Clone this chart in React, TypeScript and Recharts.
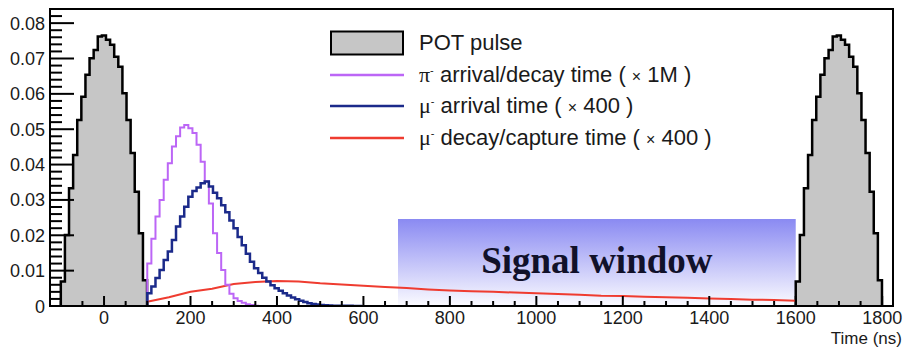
import React from 'react';
import { ComposedChart, Area, Line, XAxis, YAxis, ReferenceArea, Legend } from 'recharts';

// ---------------- data ----------------
// common histogram bin width (ns)
const histBinWidth = 9.5;

// POT proton pulse: two pulses centred at 0 ns and 1700 ns, bins start 100 ns before centre
const potPulseCentres = [0, 1700];
const potBinOffset = -100;
const potValues = [
  0.0069, 0.0201, 0.0333, 0.0427, 0.0526, 0.0592, 0.0654, 0.0701, 0.0724, 0.0762, 0.0765,
  0.0753, 0.0739, 0.0705, 0.0677, 0.0602, 0.0526, 0.0433, 0.0323, 0.0206, 0.0073,
];

// pi- arrival/decay time (x 1M)
const pionStart = 100;
const pionValues = [
  0.012, 0.019, 0.0253, 0.030, 0.0357, 0.0404, 0.0451, 0.048, 0.0505, 0.0512, 0.0503,
  0.0489, 0.0456, 0.0408, 0.0352, 0.029, 0.0206, 0.015, 0.0102, 0.006, 0.0035, 0.0022,
  0.0014, 0.0009, 0.0005, 0.0003, 0.0001,
];

// mu- arrival time (x 400)
const muArrStart = 100;
const muArrValues = [
  0.0036, 0.0055, 0.0079, 0.0102, 0.013, 0.0154, 0.0187, 0.0225, 0.0253, 0.0281, 0.0309,
  0.0325, 0.0335, 0.0347, 0.0352, 0.0338, 0.032, 0.0305, 0.0285, 0.0265, 0.0242, 0.022,
  0.0195, 0.0172, 0.0148, 0.0125, 0.0107, 0.0093, 0.008, 0.0069, 0.0059, 0.005, 0.0043,
  0.0036, 0.003, 0.0024, 0.0019, 0.0015, 0.0011, 0.0008, 0.0006, 0.0004, 0.0003, 0.0002,
  0.00015, 0.0001, 0.00008, 0.00006, 0.00005, 0.00004, 0.00003, 0.00002,
];

// mu- decay/capture time (x 400)
const muDecTimes = [
  100, 150, 200, 250, 300, 350, 400, 450, 500, 550, 600, 650, 700, 750, 800, 850, 900,
  950, 1000, 1050, 1100, 1150, 1200, 1250, 1300, 1350, 1400, 1450, 1500, 1550, 1600,
];
const muDecValues = [
  0.0012, 0.0025, 0.004, 0.0049, 0.0062, 0.0068, 0.0071, 0.0069, 0.0064, 0.0061, 0.0057,
  0.0054, 0.0051, 0.0047, 0.0044, 0.0042, 0.004, 0.0038, 0.0036, 0.0034, 0.0032, 0.0029,
  0.0028, 0.0026, 0.0025, 0.0023, 0.0021, 0.002, 0.0018, 0.0017, 0.0015,
];

// signal window
const signalWindow = { from: 680, to: 1600, height: 0.0246, label: 'Signal window' };

// axes
const xDomain = [-125, 1825];
const yDomain = [0, 0.084];
const xMajorTicks = [0, 200, 400, 600, 800, 1000, 1200, 1400, 1600, 1800];
const xMinorStep = 50;
const yMajorTicks = [0, 0.01, 0.02, 0.03, 0.04, 0.05, 0.06, 0.07, 0.08];
const yTickLabels = ['0', '0.01', '0.02', '0.03', '0.04', '0.05', '0.06', '0.07', '0.08'];
const yMinorStep = 0.002;
const xAxisTitle = 'Time (ns)';

// legend
const legendLabels = ['POT pulse', ' arrival/decay time ( ', ' arrival time ( ', ' decay/capture time ( '];
const legendParticles = ['', 'π', 'μ', 'μ'];
const legendFactors = ['', '1M', '400', '400'];

// colours
const C_POT_FILL = '#c6c6c6';
const C_PION = '#bc66f6';
const C_MUARR = '#1b2a8a';
const C_MUDEC = '#ef3c30';
const legendColors = ['#000', C_PION, C_MUARR, C_MUDEC];

// ---------------- table building ----------------
type Row = { x: number; [k: string]: number };
function histRows(key: string, start: number, values: number[]): Row[] {
  const rows: Row[] = [{ x: start, [key]: 0 }];
  values.forEach((v, i) => rows.push({ x: start + i * histBinWidth, [key]: v }));
  rows.push({ x: start + values.length * histBinWidth, [key]: 0 });
  return rows;
}

const rows: Row[] = [
  ...histRows('pot1', potPulseCentres[0] + potBinOffset, potValues),
  ...histRows('pot2', potPulseCentres[1] + potBinOffset, potValues),
  ...histRows('pion', pionStart, pionValues),
  ...histRows('muArr', muArrStart, muArrValues),
  ...muDecTimes.map((t, i) => ({ x: t, muDec: muDecValues[i] })),
];

const xTicks: number[] = [];
for (let t = -100; t <= 1800; t += xMinorStep) xTicks.push(t);
const yTicks: number[] = [];
for (let i = 0; i * yMinorStep <= yDomain[1] + 1e-9; i++) yTicks.push(+(i * yMinorStep).toFixed(4));

const AXIS_FONT = '"Liberation Sans", Arial, Helvetica, sans-serif';
const TEXT_FILL = '#1a1a1a';

const XTick = (props: any) => {
  const { x, y, payload } = props;
  const v = payload.value;
  const major = xMajorTicks.includes(v);
  return (
    <g>
      <line x1={x} x2={x} y1={y} y2={y - (major ? 10 : 5)} stroke="#000" strokeWidth={2} />
      {major && (
        <text x={x} y={y + 18} textAnchor="middle" fontFamily={AXIS_FONT} fontSize={18} fill={TEXT_FILL}>
          {v}
        </text>
      )}
    </g>
  );
};

const YTick = (props: any) => {
  const { x, y, payload } = props;
  const v = payload.value;
  const idx = yMajorTicks.findIndex((m) => Math.abs(m - v) < 1e-7);
  const major = idx >= 0;
  return (
    <g>
      <line x1={x} x2={x + (major ? 24 : 12)} y1={y} y2={y} stroke="#000" strokeWidth={2} />
      {major && (
        <text x={x - 5} y={y + 6.5} textAnchor="end" fontFamily={AXIS_FONT} fontSize={18} fill={TEXT_FILL}>
          {yTickLabels[idx]}
        </text>
      )}
    </g>
  );
};

const LegendBox = () => (
  <div style={{ fontFamily: AXIS_FONT, fontSize: 22, color: TEXT_FILL }}>
    {legendLabels.map((label, i) => (
      <div key={i} style={{ display: 'flex', alignItems: 'center', height: 31.7, whiteSpace: 'nowrap' }}>
        <svg width={74} height={26} style={{ marginRight: 15, flex: 'none' }}>
          {i === 0 ? (
            <rect x={1} y={1.5} width={72} height={23} fill={C_POT_FILL} stroke="#000" strokeWidth={2} />
          ) : (
            <line x1={0} x2={74} y1={13} y2={13} stroke={legendColors[i]} strokeWidth={2.5} />
          )}
        </svg>
        <span>
          {legendParticles[i] && (
            <>
              <span style={{ fontFamily: '"Liberation Serif", "Times New Roman", serif' }}>{legendParticles[i]}</span>
              <span style={{ fontSize: 11, verticalAlign: 'super' }}>-</span>
            </>
          )}
          {label}
          {legendFactors[i] && (
            <>
              <span style={{ fontSize: 16 }}>×</span> {legendFactors[i]} )
            </>
          )}
        </span>
      </div>
    ))}
  </div>
);

export default function App() {
  return (
    <div style={{ position: 'absolute', left: 0, top: 0, width: 907, height: 352, background: '#fff' }}>
      <ComposedChart width={907} height={352} data={rows} margin={{ top: 9, right: 14, bottom: 0, left: 0 }}>
        <defs>
          <linearGradient id="sigGrad" x1="0" y1="0" x2="0" y2="1">
            <stop offset="0%" stopColor="#8a8af2" />
            <stop offset="100%" stopColor="#fbfbff" />
          </linearGradient>
        </defs>
        <XAxis
          type="number"
          dataKey="x"
          domain={xDomain}
          ticks={xTicks}
          interval={0}
          tickSize={0}
          tickMargin={0}
          tickLine={false}
          tick={(p: any) => <XTick {...p} />}
          axisLine={{ stroke: '#000', strokeWidth: 2 }}
          height={46}
          allowDataOverflow
          label={(p: any) => {
            const vb = p.viewBox;
            return (
              <text x={vb.x + vb.width + 9} y={vb.y + 38} textAnchor="end" fontFamily={AXIS_FONT} fontSize={17} fill={TEXT_FILL}>
                {xAxisTitle}
              </text>
            );
          }}
        />
        <YAxis
          type="number"
          domain={yDomain}
          ticks={yTicks}
          interval={0}
          tickSize={0}
          tickMargin={0}
          tickLine={false}
          tick={(p: any) => <YTick {...p} />}
          axisLine={{ stroke: '#000', strokeWidth: 2 }}
          width={50}
          allowDataOverflow
        />
        <ReferenceArea
          x1={signalWindow.from}
          x2={signalWindow.to}
          y1={0}
          y2={signalWindow.height}
          fill="url(#sigGrad)"
          fillOpacity={1}
          stroke="none"
          label={(p: any) => {
            const vb = p.viewBox;
            return (
              <text
                x={vb.x + vb.width / 2}
                y={vb.y + vb.height / 2 + 10}
                textAnchor="middle"
                fontFamily='"Liberation Serif", "Times New Roman", serif'
                fontWeight="bold"
                fontSize={37}
                fill="#11112a"
              >
                {signalWindow.label}
              </text>
            );
          }}
        />
        <Area dataKey="pot1" type="stepAfter" connectNulls stroke="#000" strokeWidth={2.5} fill={C_POT_FILL} fillOpacity={1} isAnimationActive={false} dot={false} activeDot={false} />
        <Area dataKey="pot2" type="stepAfter" connectNulls stroke="#000" strokeWidth={2.5} fill={C_POT_FILL} fillOpacity={1} isAnimationActive={false} dot={false} activeDot={false} />
        <Line dataKey="muDec" type="linear" connectNulls stroke={C_MUDEC} strokeWidth={2} dot={false} activeDot={false} isAnimationActive={false} />
        <Line dataKey="pion" type="stepAfter" connectNulls stroke={C_PION} strokeWidth={2} dot={false} activeDot={false} isAnimationActive={false} />
        <Line dataKey="muArr" type="stepAfter" connectNulls stroke={C_MUARR} strokeWidth={2.5} dot={false} activeDot={false} isAnimationActive={false} />
        <ReferenceArea x1={xDomain[0]} x2={xDomain[1]} y1={yDomain[0]} y2={yDomain[1]} fill="none" stroke="#000" strokeWidth={2} />
        <Legend
          layout="vertical"
          align="center"
          verticalAlign="middle"
          content={() => <LegendBox />}
          wrapperStyle={{ left: 330, top: 27, width: 470, height: 130 }}
        />
      </ComposedChart>
    </div>
  );
}
